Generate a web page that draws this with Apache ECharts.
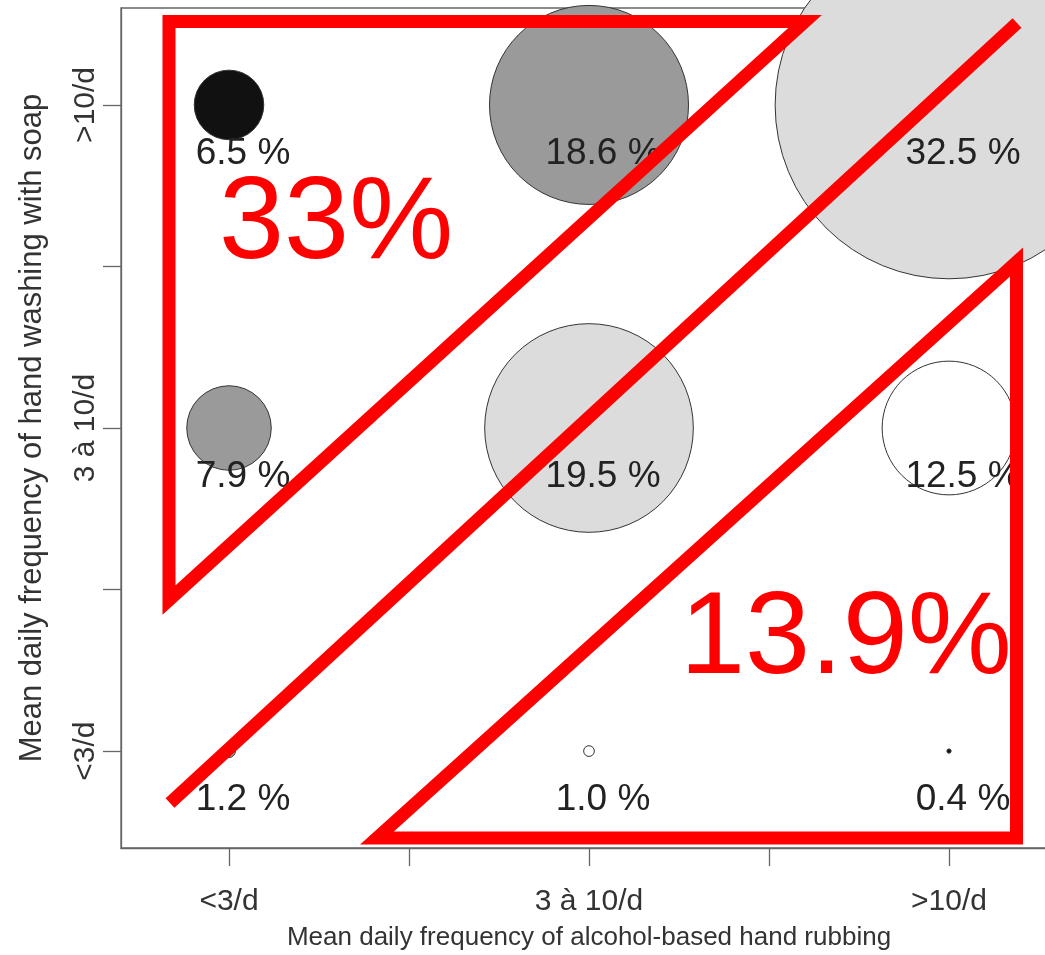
<!DOCTYPE html>
<html>
<head>
<meta charset="utf-8">
<script src="https://cdn.jsdelivr.net/npm/echarts@6/dist/echarts.min.js"></script>
<style>
  html, body { margin: 0; padding: 0; background: #ffffff; }
  #chart { width: 1045px; height: 955px; }
</style>
</head>
<body>
<div id="chart"></div>
<script>
// ---- data ----
const xCategories = ['<3/d', '3 à 10/d', '>10/d'];
const yCategories = ['<3/d', '3 à 10/d', '>10/d'];
const xTickValues = [1, 1.5, 2, 2.5, 3];
const yTickValues = [1, 1.5, 2, 2.5, 3];
const xIndex = [1, 2, 3, 1, 2, 3, 1, 2, 3];
const yIndex = [3, 3, 3, 2, 2, 2, 1, 1, 1];
const percent = [6.5, 18.6, 32.5, 7.9, 19.5, 12.5, 1.2, 1.0, 0.4];
const shadeLevel = [3, 2, 1, 2, 1, 0, 2, 0, 3];
const xTitle = 'Mean daily frequency of alcohol-based hand rubbing';
const yTitle = 'Mean daily frequency of hand washing with soap';
const annotationTexts = ['33%', '13.9%'];

// ---- styles ----
const palette = ['#ffffff', '#dcdcdc', '#9a9a9a', '#111111'];
const FONT = "'Liberation Sans', Arial, sans-serif";
const RED = '#ff0000';

const chart = echarts.init(document.getElementById('chart'), null, { renderer: 'canvas' });

const points = percent.map((p, i) => [xIndex[i], yIndex[i], p, shadeLevel[i]]);

const axisCommon = {
  type: 'value',
  min: 0.7,
  max: 3.3,
  splitLine: { show: false },
  axisLine: { show: true, lineStyle: { color: '#666', width: 1.3 } },
  axisTick: { show: true, inside: false, length: 18, lineStyle: { color: '#666', width: 1.3 } },
  nameLocation: 'middle'
};

chart.setOption({
  animation: false,
  backgroundColor: '#ffffff',
  grid: { left: 121, top: 8, width: 936, height: 840, show: true, borderColor: '#666', borderWidth: 1.3,
          outerBoundsMode: 'none', containLabel: false },
  xAxis: Object.assign({}, axisCommon, {
    name: xTitle,
    nameGap: 77,
    nameTextStyle: { fontFamily: FONT, fontSize: 26, color: '#333' },
    axisTick: Object.assign({}, axisCommon.axisTick, { customValues: xTickValues }),
    axisLabel: {
      customValues: xTickValues.filter(v => Number.isInteger(v)),
      formatter: v => xCategories[Math.round(v) - 1],
      margin: 39, fontFamily: FONT, fontSize: 30, color: '#333'
    }
  }),
  yAxis: Object.assign({}, axisCommon, {
    name: yTitle,
    nameGap: 73,
    nameTextStyle: { fontFamily: FONT, fontSize: 31, color: '#333' },
    axisTick: Object.assign({}, axisCommon.axisTick, { customValues: yTickValues }),
    axisLabel: {
      customValues: yTickValues.filter(v => Number.isInteger(v)),
      formatter: v => yCategories[Math.round(v) - 1],
      rotate: 90,
      margin: 20, fontFamily: FONT, fontSize: 30, color: '#333'
    }
  }),
  series: [{
    type: 'scatter',
    clip: true,
    data: points,
    symbol: 'circle',
    symbolSize: d => d[2] * 10.7,
    itemStyle: {
      color: p => palette[p.data[3]],
      borderColor: '#333',
      borderWidth: 1,
      opacity: 1
    },
    label: {
      show: true,
      position: 'inside',
      offset: [14, 49],
      formatter: p => p.data[2].toFixed(1) + ' %',
      fontFamily: FONT,
      fontSize: 37,
      color: '#222'
    },
    emphasis: { disabled: true }
  }],
  graphic: [
    { type: 'polygon', z: 100, shape: { points: [[169, 21.5], [805, 21.5], [169, 600]] },
      style: { fill: 'none', stroke: RED, lineWidth: 13, lineJoin: 'miter', miterLimit: 10 } },
    { type: 'line', z: 100, shape: { x1: 170, y1: 803, x2: 1017, y2: 23 },
      style: { stroke: RED, lineWidth: 13, lineCap: 'butt' } },
    { type: 'polygon', z: 100, shape: { points: [[1016.5, 262], [1016.5, 838], [377, 838]] },
      style: { fill: 'none', stroke: RED, lineWidth: 13, lineJoin: 'miter', miterLimit: 10 } },
    { type: 'text', z: 101, x: 219, y: 226,
      style: { text: annotationTexts[0], fill: RED, font: "117px 'Liberation Sans', Arial, sans-serif", textAlign: 'left', textVerticalAlign: 'middle' } },
    { type: 'text', z: 101, x: 680, y: 641,
      style: { text: annotationTexts[1], fill: RED, font: "117px 'Liberation Sans', Arial, sans-serif", textAlign: 'left', textVerticalAlign: 'middle' } }
  ]
});
</script>
</body>
</html>
